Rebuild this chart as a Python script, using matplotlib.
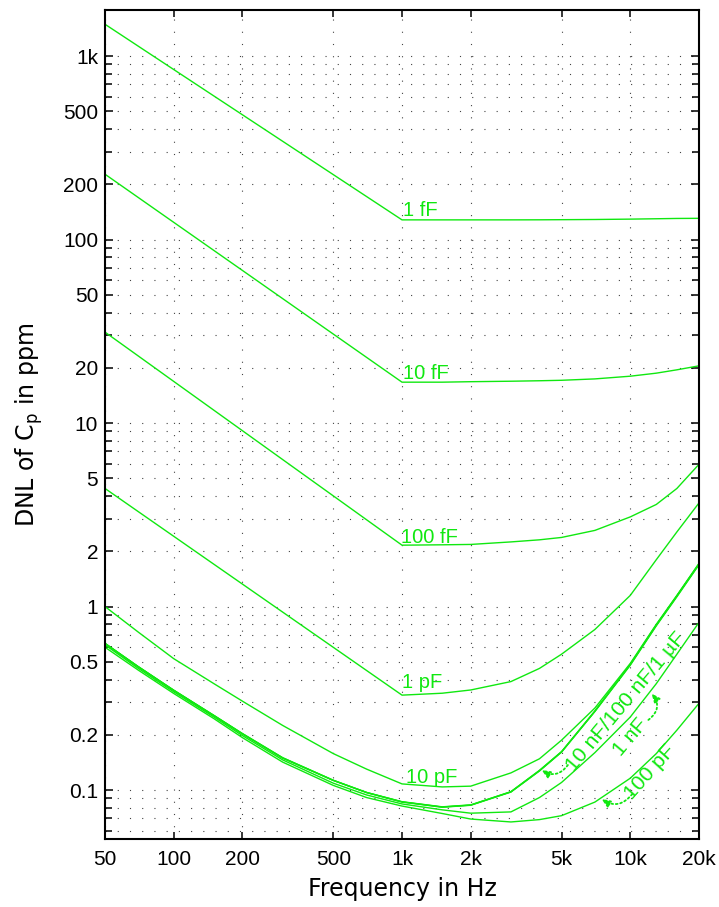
import matplotlib
matplotlib.use('Agg')
import matplotlib.pyplot as plt
from matplotlib.ticker import FixedLocator, NullLocator, FixedFormatter

# curvas com patamar a partir de 1 kHz (so extremos no trecho reto)
f_kink = [50, 1000, 1500, 2000, 3000, 4000, 5000, 7000, 10000, 13000, 16000, 20000]
dnl_1f = [1490, 128, 128, 128, 128, 128.1, 128.3, 128.6, 129.2, 129.8, 130.3, 130.5]
dnl_10f = [227, 16.7, 16.7, 16.8, 16.9, 17.0, 17.1, 17.4, 18.0, 18.7, 19.5, 20.5]
dnl_100f = [31.3, 2.16, 2.17, 2.18, 2.25, 2.31, 2.38, 2.6, 3.08, 3.6, 4.4, 5.96]
dnl_1p = [4.4, 0.329, 0.337, 0.351, 0.39, 0.46, 0.55, 0.75, 1.15, 1.8, 2.55, 3.67]

# curvas suaves
f_full = [50, 70, 100, 150, 200, 300, 500, 700, 1000, 1500, 2000, 3000,
          4000, 5000, 7000, 10000, 13000, 16000, 20000]
dnl_10p = [1.0, 0.725, 0.52, 0.38, 0.305, 0.225, 0.158, 0.13, 0.108, 0.104,
           0.105, 0.124, 0.148, 0.187, 0.28, 0.49, 0.80, 1.15, 1.72]
dnl_100p = [0.60, 0.45, 0.336, 0.245, 0.193, 0.142, 0.106, 0.091, 0.0818,
            0.0745, 0.0695, 0.067, 0.069, 0.0725, 0.086, 0.116, 0.158, 0.212, 0.297]
dnl_1n = [0.618, 0.46, 0.343, 0.25, 0.198, 0.146, 0.109, 0.094, 0.084,
          0.078, 0.0748, 0.076, 0.091, 0.11, 0.16, 0.25, 0.38, 0.55, 0.82]
dnl_10n = [0.63, 0.47, 0.35, 0.255, 0.203, 0.15, 0.113, 0.097, 0.0864,
           0.081, 0.083, 0.098, 0.128, 0.162, 0.27, 0.485, 0.795, 1.145, 1.71]
dnl_100n = [0.63, 0.47, 0.35, 0.255, 0.203, 0.15, 0.113, 0.097, 0.0862,
            0.0808, 0.0828, 0.0978, 0.1275, 0.1615, 0.269, 0.482, 0.79, 1.14, 1.70]
dnl_1u = [0.629, 0.469, 0.349, 0.254, 0.202, 0.149, 0.1128, 0.0968, 0.086,
          0.0806, 0.0826, 0.0975, 0.127, 0.161, 0.268, 0.479, 0.785, 1.13, 1.69]

verde = '#10e810'

fig = plt.figure(figsize=(7.19, 9.07), dpi=100)
ax = fig.add_axes([105 / 719, 68 / 907, 594 / 719, 829 / 907])

for v in [dnl_1f, dnl_10f, dnl_100f, dnl_1p]:
    ax.plot(f_kink, v, color=verde, lw=1.0)
for v in [dnl_10p, dnl_100p, dnl_1n, dnl_10n, dnl_100n, dnl_1u]:
    ax.plot(f_full, v, color=verde, lw=1.0)

ax.set_xscale('log')
ax.set_yscale('log')
ax.set_xlim(50, 20000)
ax.set_ylim(0.0541, 1782)

xt = [50, 100, 200, 500, 1000, 2000, 5000, 10000, 20000]
xl = ['50', '100', '200', '500', '1k', '2k', '5k', '10k', '20k']
ax.xaxis.set_major_locator(FixedLocator(xt))
ax.xaxis.set_major_formatter(FixedFormatter(xl))
ax.xaxis.set_minor_locator(NullLocator())

yt = [0.1, 0.2, 0.5, 1, 2, 5, 10, 20, 50, 100, 200, 500, 1000]
yl = ['0.1', '0.2', '0.5', '1', '2', '5', '10', '20', '50', '100', '200', '500', '1k']
ymin = []
for e in range(-2, 4):
    for n in range(1, 10):
        y = n * 10.0 ** e
        if 0.0541 < y < 1782 and not any(abs(y - t) < 1e-9 * t for t in yt):
            ymin.append(y)
ax.yaxis.set_major_locator(FixedLocator(yt))
ax.yaxis.set_major_formatter(FixedFormatter(yl))
ax.yaxis.set_minor_locator(FixedLocator(ymin))

fonte = 'Liberation Sans'
ax.tick_params(axis='both', which='both', direction='in', top=True, right=True,
               width=1.1, color='black')
ax.tick_params(axis='x', which='major', length=5, pad=8)
ax.tick_params(axis='y', which='major', length=6, pad=5)
ax.tick_params(axis='y', which='minor', length=5)
for lab in ax.get_xticklabels() + ax.get_yticklabels():
    lab.set_fontfamily(fonte)
    lab.set_fontsize(15)

grade = dict(color='#444444', lw=0.8, linestyle=(0, (1, 10)))
ax.grid(True, axis='y', which='both', **grade)
ax.grid(True, axis='x', which='major', **grade)
for s in ax.spines.values():
    s.set_linewidth(1.5)

ax.set_xlabel('Frequency in Hz', fontsize=17, family='DejaVu Sans', labelpad=6)
ax.set_ylabel('DNL of C$_\\mathregular{p}$ in ppm', fontsize=17, family='DejaVu Sans',
              labelpad=13)

# rotulos das curvas
rot = dict(color=verde, fontsize=14.5, family=fonte)
ax.text(1010, 134, '1 fF', ha='left', va='baseline', **rot)
ax.text(1010, 17.3, '10 fF', ha='left', va='baseline', **rot)
ax.text(985, 2.22, '100 fF', ha='left', va='baseline', **rot)
ax.text(995, 0.362, '1 pF', ha='left', va='baseline', **rot)
ax.text(1040, 0.1095, '10 pF', ha='left', va='baseline', **rot)
inc = dict(color=verde, fontsize=15.3, family=fonte, ha='center', va='center',
           rotation_mode='anchor')
ax.text(9570, 0.302, '10 nF/100 nF/1 µF', rotation=50, **inc)
ax.text(10000, 0.1944, '1 nF', rotation=50, **inc)
ax.text(12200, 0.1253, '100 pF', rotation=48, **inc)

seta = dict(arrowstyle='-|>,head_length=0.5,head_width=0.22', color=verde, lw=1.3,
            linestyle=(0, (1, 1.5)), shrinkA=0, shrinkB=0)
ax.annotate('', xy=(4090, 0.1285), xytext=(5330, 0.1369),
            arrowprops=dict(connectionstyle='arc3,rad=-0.45', **seta))
ax.annotate('', xy=(12400, 0.336), xytext=(12000, 0.241),
            arrowprops=dict(connectionstyle='arc3,rad=0.5', **seta))
ax.annotate('', xy=(7490, 0.0893), xytext=(10200, 0.0951),
            arrowprops=dict(connectionstyle='arc3,rad=-0.45', **seta))

fig.savefig('out.png', dpi=100)
